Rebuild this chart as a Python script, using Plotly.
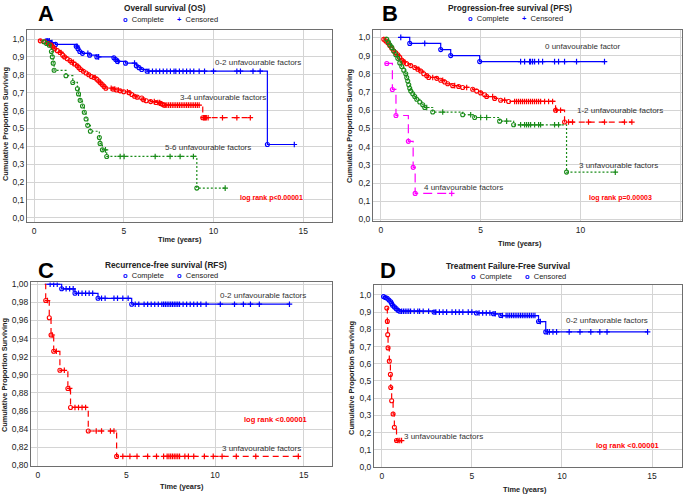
import plotly.graph_objects as go

# ---------------- A: Overall survival (OS) ----------------
os_a_start = (0.6, 1.0)
os_a_t = [0.75, 0.9, 1.2, 2.35, 2.45, 2.55, 2.7, 3.1, 3.5, 4.45, 4.55, 4.65, 5.1, 5.7, 5.85, 6.0, 6.3, 13.0]
os_a_s = [0.99, 0.98, 0.97, 0.96, 0.945, 0.93, 0.92, 0.91, 0.90, 0.895, 0.885, 0.875, 0.865, 0.85, 0.84, 0.83, 0.82, 0.41]
os_a_end = 14.5
os_a_cens = [0.85, 1.0, 2.4, 3.0, 3.6, 4.7, 5.6, 6.4, 6.6, 6.8, 7.0, 7.2, 7.4, 7.6, 7.8, 7.9,
             8.1, 8.3, 8.5, 8.7, 8.9, 9.2, 9.5, 10.0, 11.3, 11.5, 12.2, 12.6, 14.5]

os_b_start = (0.3, 0.995)
os_b_t = [0.35, 0.6, 0.8, 0.95, 1.05, 1.15, 1.3, 1.45, 1.6, 1.7, 1.85, 2.0, 2.1, 2.25, 2.4, 2.5,
          2.6, 2.75, 2.9, 3.05, 3.2, 3.35, 3.5, 3.6, 3.7, 3.8, 3.9, 4.0, 4.4, 4.6, 4.8, 5.0,
          5.3, 5.45, 5.6, 5.75, 6.0, 6.1, 6.25, 6.5, 6.8, 7.05, 7.15, 7.25, 9.4]
os_b_s = [0.99, 0.985, 0.975, 0.965, 0.955, 0.945, 0.935, 0.925, 0.91, 0.90, 0.89, 0.88, 0.87, 0.86, 0.85, 0.84,
          0.83, 0.82, 0.81, 0.80, 0.79, 0.785, 0.775, 0.765, 0.755, 0.745, 0.735, 0.725, 0.72, 0.715, 0.71, 0.705,
          0.70, 0.69, 0.68, 0.675, 0.67, 0.66, 0.655, 0.65, 0.645, 0.64, 0.635, 0.63, 0.56]
os_b_end = 12.05
os_b_cens = [1.0, 1.5, 2.2, 3.4, 4.3, 4.5, 4.7, 5.2, 6.7, 6.9, 7.0, 7.3, 7.4, 7.5, 7.6, 7.7, 7.8, 7.9,
             8.0, 8.1, 8.2, 8.3, 8.4, 8.5, 8.6, 8.7, 8.8, 8.9, 9.0, 9.1, 9.2, 9.45, 9.5, 9.55, 9.6,
             9.7, 10.5, 11.3, 12.05]

os_c_start = (0.45, 0.99)
os_c_t = [0.55, 0.7, 0.85, 0.97, 1.02, 1.07, 1.12, 1.78, 2.16, 2.42, 2.48, 2.57, 2.7, 2.8, 2.9,
          2.99, 3.14, 3.64, 3.68, 3.81, 4.05, 9.07]
os_c_s = [0.985, 0.975, 0.965, 0.93, 0.90, 0.865, 0.825, 0.795, 0.757, 0.722, 0.693, 0.657, 0.625, 0.59, 0.553,
          0.517, 0.484, 0.449, 0.416, 0.38, 0.343, 0.166]
os_c_end = 10.65
os_c_cens = [3.98, 4.8, 5.02, 6.75, 7.58, 8.14, 8.88, 10.65]

# ---------------- B: Progression-free survival (PFS) ----------------
pfs_a_start = (1.0, 1.0)
pfs_a_t = [1.45, 3.0, 3.5, 4.95]
pfs_a_s = [0.967, 0.933, 0.90, 0.867]
pfs_a_end = 11.2
pfs_a_cens = [1.0, 2.2, 7.0, 7.2, 7.45, 7.5, 7.6, 7.7, 7.9, 8.1, 8.7, 8.9, 9.2, 9.8, 11.2]

pfs_b_start = (0.13, 1.0)
pfs_b_t = [0.15, 0.25, 0.35, 0.45, 0.55, 0.65, 0.75, 0.85, 0.95, 1.05, 1.15, 1.3, 1.5, 1.7, 1.85,
           2.0, 2.15, 2.3, 2.4, 2.8, 3.0, 3.2, 3.35, 3.6, 3.9, 4.1, 4.6, 4.8, 5.0, 5.2, 5.3,
           5.7, 6.0, 6.4, 8.75, 9.2]
pfs_b_s = [0.99, 0.98, 0.97, 0.955, 0.94, 0.925, 0.915, 0.905, 0.89, 0.875, 0.865, 0.855, 0.845, 0.835, 0.825,
           0.815, 0.80, 0.79, 0.78, 0.775, 0.765, 0.755, 0.745, 0.735, 0.73, 0.725, 0.715, 0.705, 0.695, 0.685, 0.675,
           0.665, 0.655, 0.648, 0.60, 0.535]
pfs_b_end = 12.57
pfs_b_cens = [1.2, 1.9, 2.6, 3.1, 3.7, 4.3, 5.6, 6.2, 6.7, 6.8, 6.9, 7.0, 7.1, 7.2, 7.3, 7.4, 7.5, 7.6,
              7.7, 7.8, 7.9, 8.0, 8.2, 8.4, 8.6, 8.8, 9.0, 9.4, 9.6, 10.4, 11.2, 12.2, 12.57]

pfs_c_start = (0.22, 1.0)
pfs_c_t = [0.3, 0.38, 0.45, 0.55, 0.65, 0.75, 0.85, 0.95, 1.05, 1.15, 1.25, 1.3, 1.35, 1.4, 1.45,
           1.5, 1.6, 1.7, 1.8, 1.95, 2.1, 2.2, 2.6, 4.1, 4.7, 5.95, 6.65, 9.3]
pfs_c_s = [0.99, 0.975, 0.96, 0.945, 0.925, 0.905, 0.885, 0.86, 0.84, 0.82, 0.80, 0.78, 0.76, 0.74, 0.72,
           0.705, 0.69, 0.675, 0.66, 0.645, 0.63, 0.615, 0.59, 0.575, 0.56, 0.54, 0.52, 0.26]
pfs_c_end = 11.74
pfs_c_cens = [2.3, 3.1, 4.5, 5.0, 5.3, 6.3, 7.0, 7.2, 7.3, 7.4, 7.5, 7.7, 7.9, 8.0, 8.7, 8.9, 11.74]

pfs_d_start = (0.22, 0.857)
pfs_d_t = [0.3, 0.58, 0.76, 1.38, 1.62, 1.72]
pfs_d_s = [0.857, 0.714, 0.571, 0.429, 0.286, 0.143]
pfs_d_end = 3.55
pfs_d_cens = [3.55]

# ---------------- C: Recurrence-free survival (RFS) ----------------
rfs_a_start = (0.4, 1.0)
rfs_a_t = [1.35, 2.1, 3.4, 5.3]
rfs_a_s = [0.995, 0.990, 0.9845, 0.978]
rfs_a_end = 14.2
rfs_a_cens = [0.7, 0.9, 1.1, 1.6, 1.8, 2.0, 2.3, 2.5, 2.7, 2.9, 3.1, 3.6, 3.8, 4.3, 4.5, 4.8, 5.1,
              5.5, 5.7, 6.0, 6.2, 6.4, 6.6, 6.8, 7.0, 7.1, 7.2, 7.3, 7.4, 7.5, 7.6, 7.7, 7.8, 7.9,
              8.0, 8.2, 8.4, 8.6, 8.8, 9.0, 9.2, 9.5, 10.3, 11.1, 11.6, 12.0, 12.5, 14.2]

rfs_b_start = (0.4, 1.0)
rfs_b_t = [0.45, 0.65, 0.75, 0.9, 1.25, 1.7, 1.85, 2.85, 4.45]
rfs_b_s = [0.982, 0.963, 0.944, 0.926, 0.905, 0.885, 0.864, 0.838, 0.810]
rfs_b_end = 14.7
rfs_b_cens = [0.55, 0.82, 1.05, 1.5, 1.8, 2.1, 2.3, 2.5, 2.7, 3.3, 3.6, 4.1, 4.3, 4.8, 5.2, 5.6,
              6.2, 6.7, 7.1, 7.3, 7.4, 7.5, 7.6, 7.7, 7.8, 7.9, 8.0, 8.3, 8.5, 8.8, 9.4, 9.9,
              10.4, 11.2, 12.3, 14.7]

# ---------------- D: Treatment failure-free survival ----------------
tffs_a_start = (0.05, 0.99)
tffs_a_t = [0.1, 0.2, 0.3, 0.4, 0.5, 0.55, 0.6, 0.7, 0.8, 0.9, 1.0, 2.9, 5.25, 6.2, 6.6, 8.7, 9.1]
tffs_a_s = [0.99, 0.985, 0.98, 0.97, 0.96, 0.95, 0.94, 0.93, 0.92, 0.91, 0.905, 0.90, 0.895, 0.89, 0.88, 0.845, 0.785]
tffs_a_end = 14.75
tffs_a_cens = [1.1, 1.2, 1.3, 1.4, 1.5, 1.6, 1.8, 2.0, 2.1, 2.3, 2.6, 3.0, 3.2, 3.4, 3.6, 3.9, 4.1,
               4.3, 4.5, 4.8, 5.0, 5.4, 5.6, 5.8, 6.0, 6.3, 6.7, 6.9, 7.0, 7.1, 7.2, 7.3, 7.4, 7.5,
               7.6, 7.7, 7.8, 7.9, 8.0, 8.1, 8.2, 8.3, 8.4, 8.5, 8.8, 9.2, 9.3, 9.5, 9.7, 10.4,
               11.0, 11.6, 12.1, 12.5, 14.75]

tffs_b_start = (0.28, 0.923)
tffs_b_t = [0.28, 0.31, 0.33, 0.35, 0.42, 0.48, 0.5, 0.55, 0.63, 0.7, 0.82]
tffs_b_s = [0.923, 0.846, 0.769, 0.692, 0.615, 0.538, 0.462, 0.385, 0.308, 0.231, 0.154]
tffs_b_end = 1.15
tffs_b_cens = [0.9, 1.0, 1.1]

W, H = 685, 498
BLUE, RED, GREEN, MAG = "#0000ff", "#ff0000", "#1a8c1a", "#ff00ff"
FONT = "Liberation Sans, Arial, sans-serif"


def surv_at(t, start, ts, ss):
    s = start[1]
    for ti, si in zip(ts, ss):
        if ti <= t:
            s = si
    return s


fig = go.Figure()


def add_curve(ax, start, ts, ss, end, cens, color, dash):
    xa, ya = ("x", "y") if ax == 1 else ("x%d" % ax, "y%d" % ax)
    fig.add_trace(go.Scatter(
        x=[start[0]] + ts + [end], y=[start[1]] + ss + [ss[-1]],
        mode="lines", line=dict(shape="hv", color=color, width=1.2, dash=dash),
        xaxis=xa, yaxis=ya, showlegend=False, hoverinfo="skip"))
    fig.add_trace(go.Scatter(
        x=ts, y=ss, mode="markers",
        marker=dict(symbol="circle-open", size=4, color=color, line=dict(width=1.1, color=color)),
        xaxis=xa, yaxis=ya, showlegend=False))
    fig.add_trace(go.Scatter(
        x=cens, y=[surv_at(c, start, ts, ss) for c in cens], mode="markers",
        marker=dict(symbol="cross-thin-open", size=4, color=color, line=dict(width=1.2, color=color)),
        xaxis=xa, yaxis=ya, showlegend=False))


add_curve(1, os_a_start, os_a_t, os_a_s, os_a_end, os_a_cens, BLUE, "solid")
add_curve(1, os_b_start, os_b_t, os_b_s, os_b_end, os_b_cens, RED, "6px,4px")
add_curve(1, os_c_start, os_c_t, os_c_s, os_c_end, os_c_cens, GREEN, "2px,2px")

add_curve(2, pfs_a_start, pfs_a_t, pfs_a_s, pfs_a_end, pfs_a_cens, BLUE, "solid")
add_curve(2, pfs_b_start, pfs_b_t, pfs_b_s, pfs_b_end, pfs_b_cens, RED, "6px,4px")
add_curve(2, pfs_c_start, pfs_c_t, pfs_c_s, pfs_c_end, pfs_c_cens, GREEN, "2px,2px")
add_curve(2, pfs_d_start, pfs_d_t, pfs_d_s, pfs_d_end, pfs_d_cens, MAG, "9px,5px")

add_curve(3, rfs_a_start, rfs_a_t, rfs_a_s, rfs_a_end, rfs_a_cens, BLUE, "solid")
add_curve(3, rfs_b_start, rfs_b_t, rfs_b_s, rfs_b_end, rfs_b_cens, RED, "6px,4px")

add_curve(4, tffs_a_start, tffs_a_t, tffs_a_s, tffs_a_end, tffs_a_cens, BLUE, "solid")
add_curve(4, tffs_b_start, tffs_b_t, tffs_b_s, tffs_b_end, tffs_b_cens, RED, "6px,4px")


def px(x0, x1):
    return [x0 / W, x1 / W]


def py(top, bottom):
    return [1 - bottom / H, 1 - top / H]


ytick10 = [i / 10 for i in range(11)]
ytext10 = [("%.1f" % v).replace(".", ",") for v in ytick10]
ytickc = [0.80 + i * 0.02 for i in range(11)]
ytextc = [("%.2f" % v).replace(".", ",") for v in ytickc]

axis_common = dict(showline=True, mirror=True, linecolor="#6e6e6e", linewidth=1,
                   showgrid=True, gridcolor="#d4d4d4", gridwidth=1, zeroline=False,
                   ticks="", tickfont=dict(family=FONT, size=8.5, color="#222"))
xt = dict(tickmode="array", tickvals=[0, 5, 10, 15], ticktext=["0", "5", "10", "15"])

fig.update_layout(
    xaxis=dict(domain=px(27, 332), range=[-0.39, 16.6], anchor="y", **xt, **axis_common),
    yaxis=dict(domain=py(27, 223), range=[-0.026, 1.053], anchor="x",
               tickmode="array", tickvals=ytick10, ticktext=ytext10, **axis_common),
    xaxis2=dict(domain=px(373, 682), range=[-0.39, 15.08], anchor="y2", **xt, **axis_common),
    yaxis2=dict(domain=py(27, 222), range=[-0.011, 1.043], anchor="x2",
                tickmode="array", tickvals=ytick10, ticktext=ytext10, **axis_common),
    xaxis3=dict(domain=px(31, 332), range=[-0.38, 16.6], anchor="y3", **xt, **axis_common),
    yaxis3=dict(domain=py(284, 471), range=[0.7989, 1.002], anchor="x3",
                tickmode="array", tickvals=ytickc, ticktext=ytextc, **axis_common),
    xaxis4=dict(domain=px(374, 682), range=[-0.43, 16.66], anchor="y4", **xt, **axis_common),
    yaxis4=dict(domain=py(287, 472), range=[-0.002, 1.055], anchor="x4",
                tickmode="array", tickvals=ytick10, ticktext=ytext10, **axis_common),
)

ann = []


def paper_text(x, y, text, size, bold=False, color="#222", xanchor="center", angle=0, family=FONT):
    if bold:
        text = "<b>" + text + "</b>"
    ann.append(dict(x=x / W, y=1 - y / H, xref="paper", yref="paper", text=text, showarrow=False,
                    xanchor=xanchor, yanchor="middle", textangle=angle,
                    font=dict(family=family, size=size, color=color)))


def data_text(ax, x, y, text, size=8, bold=False, color="#333"):
    if bold:
        text = "<b>" + text + "</b>"
    xr, yr = ("x", "y") if ax == 1 else ("x%d" % ax, "y%d" % ax)
    ann.append(dict(x=x, y=y, xref=xr, yref=yr, text=text, showarrow=False,
                    xanchor="left", yanchor="middle", font=dict(family=FONT, size=size, color=color)))


# panel letters
for lx, ly, letter in [(46, 11, "A"), (390, 11, "B"), (46, 272, "C"), (388, 272, "D")]:
    paper_text(lx, ly, letter, 22, bold=True, color="#000")

# titles
paper_text(165, 5, "Overall survival (OS)", 8.3, bold=True)
paper_text(510, 5, "Progression-free survival (PFS)", 8.3, bold=True)
paper_text(166, 266, "Recurrence-free survival (RFS)", 8.3, bold=True)
paper_text(508, 267, "Treatment Failure-Free Survival", 8.3, bold=True)

# legends
circ = "<span style='color:#0000ff'><b>o</b></span>  "
plus = "<span style='color:#0000ff'><b>+</b></span>  "
for lx, ly, second in [(121, 17, plus), (466, 16, plus), (121, 277, circ), (469, 278, circ)]:
    paper_text(lx, ly, circ + "Complete", 7.5, xanchor="left")
    paper_text(lx + 54, ly, second + "Censored", 7.5, xanchor="left")

# axis titles
for tx, ty in [(180, 240), (520, 244), (182, 491), (525, 494)]:
    paper_text(tx, ty, "Time (years)", 7.4, bold=True)
for tx, ty in [(5, 123), (350, 125), (5, 378), (352, 381)]:
    paper_text(tx, ty, "Cumulative Proportion Surviving", 7.3, bold=True, angle=-90)

# curve labels
data_text(1, 9.98, 0.866, "0-2 unfavourable factors")
data_text(1, 8.0, 0.675, "3-4 unfavourable factors")
data_text(1, 7.2, 0.395, "5-6 unfavourable factors")
data_text(1, 11.36, 0.109, "log rank p<0.00001", size=7, bold=True, color=RED)

data_text(2, 8.1, 0.95, "0 unfavourable factor")
data_text(2, 9.7, 0.60, "1-2 unfavourable factors")
data_text(2, 9.8, 0.297, "3 unfavourable factors")
data_text(2, 2.05, 0.177, "4 unfavourable factors")
data_text(2, 10.3, 0.12, "log rank p=0.00003", size=7, bold=True, color=RED)

data_text(3, 10.17, 0.9877, "0-2 unfavourable factors")
data_text(3, 10.26, 0.8188, "3 unfavourable factors")
data_text(3, 11.54, 0.8508, "log rank <0.00001", size=7.5, bold=True, color=RED)

data_text(4, 10.1, 0.851, "0-2 unfavorable factors")
data_text(4, 1.11, 0.175, "3 unfavourable factors")
data_text(4, 11.8, 0.124, "log rank <0.00001", size=7.5, bold=True, color=RED)

fig.update_layout(
    width=W, height=H, margin=dict(l=0, r=0, t=0, b=0),
    paper_bgcolor="white", plot_bgcolor="white",
    showlegend=False, annotations=ann, font=dict(family=FONT),
)

fig.write_html("out.html", config={"displayModeBar": False},
               post_script="document.body.style.margin='0px';")
